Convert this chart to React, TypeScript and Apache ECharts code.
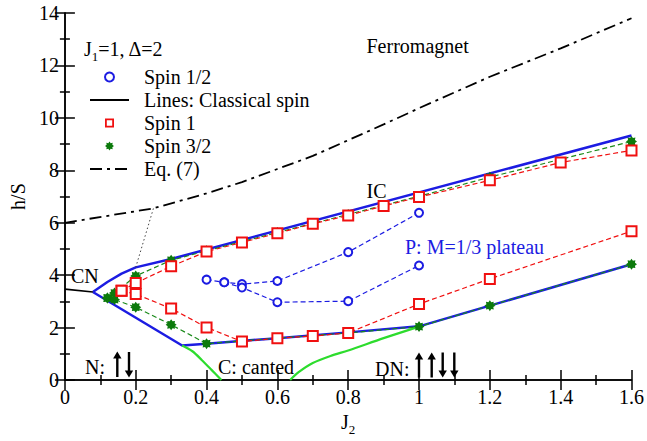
import React, { useEffect, useRef } from 'react';
import * as echarts from 'echarts';

type Pt = [number, number];

// (J2, h/S)
const spinHalfUpper: Pt[] = [[0.4, 3.83], [0.45, 3.73], [0.5, 3.66], [0.6, 3.78], [0.8, 4.88], [1.0, 6.38]];
const spinHalfLower: Pt[] = [[0.45, 3.73], [0.5, 3.53], [0.6, 2.97], [0.8, 3.01], [1.0, 4.37]];

const spinOneUpper: Pt[] = [
  [0.16, 3.41], [0.2, 3.7], [0.3, 4.34], [0.4, 4.9], [0.5, 5.25], [0.6, 5.6], [0.7, 5.96],
  [0.8, 6.28], [0.9, 6.64], [1.0, 6.98], [1.2, 7.62], [1.4, 8.3], [1.6, 8.76],
];
const spinOneLower: Pt[] = [
  [0.16, 3.41], [0.2, 3.28], [0.3, 2.73], [0.4, 2.01], [0.5, 1.47], [0.6, 1.6], [0.7, 1.68],
  [0.8, 1.8], [1.0, 2.9], [1.2, 3.86], [1.6, 5.68],
];

const spinThreeHalfUpper: Pt[] = [
  [0.12, 3.13], [0.14, 3.32], [0.2, 3.97], [0.3, 4.57], [0.4, 4.93], [0.6, 5.63],
  [0.8, 6.32], [1.0, 7.01], [1.2, 7.74], [1.6, 9.1],
];
const spinThreeHalfLower: Pt[] = [
  [0.12, 3.13], [0.14, 3.07], [0.2, 2.78], [0.3, 2.11], [0.4, 1.39], [0.6, 1.6],
  [0.8, 1.8], [1.0, 2.04], [1.2, 2.84], [1.6, 4.42],
];

// classical spin boundaries
const classicalUpper: Pt[] = [[0.079, 3.36], [0.12, 3.74], [0.16, 4.06], [0.2, 4.3], [0.3, 4.62], [1.6, 9.33]];
const classicalLower: Pt[] = [[0.079, 3.36], [0.331, 1.32], [0.4, 1.39], [0.6, 1.6], [0.8, 1.82], [1.0, 2.05], [1.6, 4.42]];
const cantedLeft: Pt[] = [[0.331, 1.32], [0.36, 1.1], [0.387, 0.76], [0.414, 0.39], [0.442, 0]];
const cantedRight: Pt[] = [[0.636, 0], [0.66, 0.3], [0.7, 0.65], [0.75, 0.92], [0.8, 1.13], [0.9, 1.6], [1.0, 2.04]];
const neelEdge: Pt[] = [[0, 3.47], [0.079, 3.36]];

const eq7: Pt[] = [
  [0, 6], [0.25, 6.55], [0.4, 7.12], [0.5, 7.55], [0.6, 8.05], [0.7, 8.55], [0.8, 9.15],
  [0.9, 9.75], [1.0, 10.37], [1.2, 11.57], [1.4, 12.65], [1.6, 13.8],
];
const dottedLink: Pt[] = [[0.2, 4.3], [0.25, 6.55]];

const SERIF = 'Liberation Serif, Times New Roman, serif';
const BLUE = '#1c1ce2';
const RED = '#f01010';
const DARK_GREEN = '#0c7a0c';
const LIGHT_GREEN = '#2ddc2d';

const starPath = (() => {
  const pts: string[] = [];
  for (let i = 0; i < 16; i++) {
    const a = (i * Math.PI) / 8 - Math.PI / 2;
    const r = i % 2 === 0 ? 10 : 6.8;
    pts.push(`${(10 + r * Math.cos(a)).toFixed(2)} ${(10 + r * Math.sin(a)).toFixed(2)}`);
  }
  return 'path://M' + pts.join(' L') + ' Z';
})();

// hollow square for the legend (rect icons are stretched otherwise)
const hollowSquare = 'path://M0 0 L10 0 L10 10 L0 10 Z M2 2 L2 8 L8 8 L8 2 Z';

const axisStyle = {
  axisLine: { lineStyle: { color: '#000', width: 1.5 } },
  axisTick: { inside: true, length: 10, lineStyle: { color: '#000', width: 1.5 } },
  minorTick: { show: true, splitNumber: 2, length: 5, lineStyle: { color: '#000', width: 1.5 } },
  splitLine: { show: false },
  minorSplitLine: { show: false },
};

const labelFont = { fontFamily: SERIF, fontSize: 20, color: '#000' };

const subRich = {
  b: { fontFamily: SERIF, fontSize: 20, lineHeight: 20, verticalAlign: 'top' as const, fill: '#000', color: '#000' },
  s: { fontFamily: SERIF, fontSize: 13, lineHeight: 13, verticalAlign: 'top' as const, padding: [11, 0, 0, 0], fill: '#000', color: '#000' },
};

const textAt = (x: number, y: number, text: string, fill = '#000') => ({
  type: 'text',
  x,
  y,
  style: {
    text,
    fill,
    fontFamily: SERIF,
    fontSize: 20,
    align: 'left',
    verticalAlign: 'middle',
    textAlign: 'left',
    textVerticalAlign: 'middle',
  },
});

const arrow = (x: number, top: number, bottom: number, up: boolean) => {
  const head = 7;
  const hw = 4.2;
  return {
    type: 'group',
    children: [
      {
        type: 'line',
        shape: up ? { x1: x, y1: bottom, x2: x, y2: top + head - 1 } : { x1: x, y1: top, x2: x, y2: bottom - head + 1 },
        style: { stroke: '#000', lineWidth: 2.4 },
      },
      {
        type: 'polygon',
        shape: {
          points: up
            ? [[x - hw, top + head], [x, top], [x + hw, top + head]]
            : [[x - hw, bottom - head], [x, bottom], [x + hw, bottom - head]],
        },
        style: { fill: '#000' },
      },
    ],
  };
};

const dashedLine = (color: string) => ({ color, width: 1.2, type: [5, 3] });

const App: React.FC = () => {
  const chartRef = useRef<HTMLDivElement>(null);

  useEffect(() => {
    if (!chartRef.current) return;
    const chart = echarts.init(chartRef.current, undefined, { renderer: 'svg' });

    const option: any = {
      animation: false,
      backgroundColor: '#fff',
      textStyle: { fontFamily: SERIF },
      grid: { left: 53, right: 13, top: 13, bottom: 54 },
      xAxis: [
        {
          type: 'value', min: 0, max: 1.6, interval: 0.2, position: 'bottom',
          name: '{b|J}{s|2}', nameLocation: 'middle', nameGap: 25,
          nameTextStyle: { ...labelFont, rich: subRich },
          axisLabel: { ...labelFont, margin: 7 },
          ...axisStyle,
        },
        {
          type: 'value', min: 0, max: 1.6, interval: 0.2, position: 'top',
          axisLabel: { show: false },
          ...axisStyle,
        },
      ],
      yAxis: [
        {
          type: 'value', min: 0, max: 14, interval: 2, position: 'left',
          name: 'h/S', nameLocation: 'middle', nameGap: 30, nameRotate: 90,
          nameTextStyle: labelFont,
          axisLabel: { ...labelFont, margin: 6 },
          ...axisStyle,
        },
        {
          type: 'value', min: 0, max: 14, interval: 2, position: 'right',
          axisLabel: { show: false },
          ...axisStyle,
        },
      ],
      legend: {
        orient: 'vertical',
        left: 84,
        top: 62,
        itemWidth: 39,
        itemHeight: 9,
        itemGap: 3,
        selectedMode: false,
        textStyle: { ...labelFont, lineHeight: 20, padding: [0, 0, 0, 10] },
        data: [
          { name: 'Spin 1/2', icon: 'emptyCircle' },
          { name: 'Lines: Classical spin', itemStyle: { opacity: 0 }, lineStyle: { color: '#000', width: 2, type: 'solid' } },
          { name: 'Spin 1', icon: hollowSquare },
          { name: 'Spin 3/2', icon: starPath },
          { name: 'Eq. (7)', itemStyle: { opacity: 0 }, lineStyle: { color: '#000', width: 2, type: [12, 5, 3, 5] } },
        ],
      },
      graphic: [
        {
          type: 'text',
          x: 84,
          y: 39,
          style: { text: '{b|J}{s|1}{b|=1, Δ=2}', rich: subRich, fill: '#000', fontFamily: SERIF },
        },
        textAt(366.5, 46, 'Ferromagnet'),
        textAt(366.5, 191, 'IC'),
        textAt(405, 247, 'P: M=1/3 plateau', BLUE),
        textAt(71, 276, 'CN'),
        textAt(85, 367, 'N:'),
        textAt(218, 367, 'C: canted'),
        textAt(375, 369, 'DN:'),
        arrow(117.3, 351.5, 377, true),
        arrow(129, 352, 377.5, false),
        arrow(419, 352.5, 377.5, true),
        arrow(431.7, 352.5, 377.5, true),
        arrow(442.7, 352.5, 377.5, false),
        arrow(454.3, 352.5, 377.5, false),
      ],
      series: [
        {
          name: 'Eq. (7)', type: 'line', data: eq7, symbol: 'none',
          itemStyle: { color: '#000' },
          lineStyle: { color: '#000', width: 1.8, type: [12, 5, 3, 5] },
        },
        {
          name: 'link', type: 'line', data: dottedLink, symbol: 'none',
          lineStyle: { color: '#444', width: 1, type: [1.5, 2.5] },
        },
        {
          name: 'Lines: Classical spin', type: 'line', data: [], symbol: 'none',
          itemStyle: { color: '#000' }, lineStyle: { color: '#000', width: 2 },
        },
        {
          name: 'neel', type: 'line', data: neelEdge, symbol: 'none',
          lineStyle: { color: '#000', width: 1.6 },
        },
        {
          name: 'classical upper', type: 'line', data: classicalUpper, symbol: 'none', z: 2,
          lineStyle: { color: BLUE, width: 2.5 },
        },
        {
          name: 'classical lower', type: 'line', data: classicalLower, symbol: 'none', z: 2,
          lineStyle: { color: BLUE, width: 2.5 },
        },
        {
          name: 'canted left', type: 'line', data: cantedLeft, symbol: 'none', smooth: 0.3, z: 2,
          lineStyle: { color: LIGHT_GREEN, width: 2.2 },
        },
        {
          name: 'canted right', type: 'line', data: cantedRight, symbol: 'none', smooth: 0.3, z: 2,
          lineStyle: { color: LIGHT_GREEN, width: 2.2 },
        },
        ...[spinThreeHalfUpper, spinThreeHalfLower].map((d) => ({
          name: 'Spin 3/2', type: 'line', data: d, symbol: starPath, symbolSize: 11, showAllSymbol: true, z: 3,
          itemStyle: { color: DARK_GREEN },
          lineStyle: dashedLine('#1a8a1a'),
        })),
        ...[spinOneUpper, spinOneLower].map((d) => ({
          name: 'Spin 1', type: 'line', data: d, symbol: 'emptyRect', symbolSize: 10, showAllSymbol: true, z: 4,
          itemStyle: { color: RED, borderWidth: 2 },
          lineStyle: dashedLine(RED),
        })),
        ...[spinHalfUpper, spinHalfLower].map((d) => ({
          name: 'Spin 1/2', type: 'line', data: d, symbol: 'emptyCircle', symbolSize: 8, showAllSymbol: true, z: 5,
          itemStyle: { color: BLUE, borderWidth: 1.6 },
          lineStyle: dashedLine(BLUE),
        })),
      ],
    };

    chart.setOption(option);
    return () => {
      chart.dispose();
    };
  }, []);

  return (
    <div
      ref={chartRef}
      style={{ position: 'fixed', left: 0, top: 0, width: 647, height: 441, background: '#fff' }}
    />
  );
};

export default App;
